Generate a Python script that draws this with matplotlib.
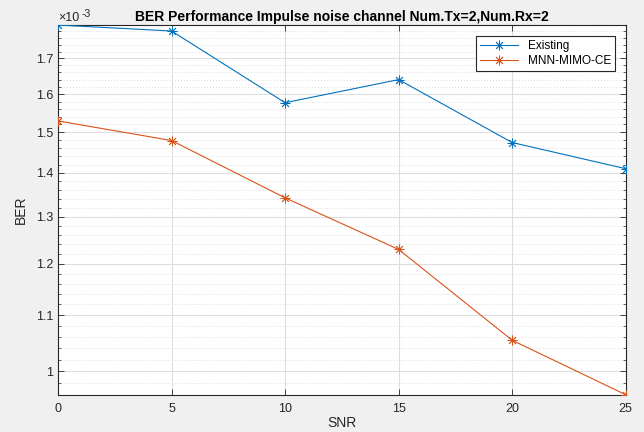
import matplotlib
matplotlib.use("Agg")
import matplotlib.pyplot as plt
import numpy as np
from matplotlib.ticker import FixedLocator, FuncFormatter, NullFormatter

snr = [0, 5, 10, 15, 20, 25]
existing = [1.799e-3, 1.781e-3, 1.577e-3, 1.640e-3, 1.474e-3, 1.410e-3]
mnn = [1.529e-3, 1.479e-3, 1.342e-3, 1.2296e-3, 1.054e-3, 0.961e-3]
xticks = [0, 5, 10, 15, 20, 25]
yticks = [1.0, 1.1, 1.2, 1.3, 1.4, 1.5, 1.6, 1.7]

plt.rcParams['font.family'] = ['Liberation Sans', 'DejaVu Sans']
fig = plt.figure(figsize=(6.44, 4.32), dpi=100, facecolor='#f0f0f0')
ax = fig.add_axes([0.090, 0.0863, 0.8816, 0.8557])
ax.set_facecolor('white')

c1 = '#0072BD'
c2 = '#D95319'
ast = (8, 2, 0)
ax.plot(snr, existing, '-', marker=ast, color=c1, lw=0.8, ms=7, mew=0.6, label='Existing', zorder=3)
ax.plot(snr, mnn, '-', marker=ast, color=c2, lw=0.8, ms=7, mew=0.6, label='MNN-MIMO-CE', zorder=3)

ax.set_yscale('log')
ax.set_xlim(0, 25)
ax.set_ylim(min(mnn), max(existing))
ax.xaxis.set_major_locator(FixedLocator(xticks))
ax.yaxis.set_major_locator(FixedLocator([v * 1e-3 for v in yticks]))
ax.yaxis.set_major_formatter(FuncFormatter(lambda v, p: ('%g' % round(v * 1e3, 3))))
minors = [round(0.96 + 0.02 * i, 2) for i in range(43)]
minors = [m * 1e-3 for m in minors if round(m * 10, 6) != round(round(m * 10), 6)]
ax.yaxis.set_minor_locator(FixedLocator(minors))
ax.yaxis.set_minor_formatter(NullFormatter())

ax.grid(True, which='major', axis='both', color='#dedede', lw=0.8, zorder=0)
ax.grid(True, which='minor', axis='y', color='#d0d0d0', lw=0.6, ls=(0, (1, 2.5)), zorder=0)
ax.set_axisbelow(True)

for s in ax.spines.values():
    s.set_color('#262626')
    s.set_linewidth(0.8)
ax.tick_params(which='both', direction='in', top=True, right=True, colors='#262626', labelsize=9)
ax.tick_params(which='major', length=4, width=0.6)
ax.tick_params(which='minor', length=2, width=0.5)
ax.tick_params(axis='x', pad=6)

ax.set_xlabel('SNR', fontsize=10, color='#262626', labelpad=1)
ax.set_ylabel('BER', fontsize=10, color='#262626', labelpad=6)
ax.set_title('BER Performance Impulse noise channel Num.Tx=2,Num.Rx=2', fontsize=10,
             fontweight='bold', color='#000000', pad=3)
ax.text(0.0, 1.004, '\u00d710', transform=ax.transAxes, fontsize=9,
        color='#262626', ha='left', va='bottom')
ax.text(0.041, 1.016, '-3', transform=ax.transAxes, fontsize=7.5,
        color='#262626', ha='left', va='bottom')

leg = ax.legend(loc='upper right', fontsize=8.5, fancybox=False, framealpha=1,
                edgecolor='#262626', borderaxespad=0.9, handlelength=3.2,
                borderpad=0.35, labelspacing=0.25)
leg.get_frame().set_linewidth(0.8)

fig.savefig('out.png', dpi=100, facecolor=fig.get_facecolor())
